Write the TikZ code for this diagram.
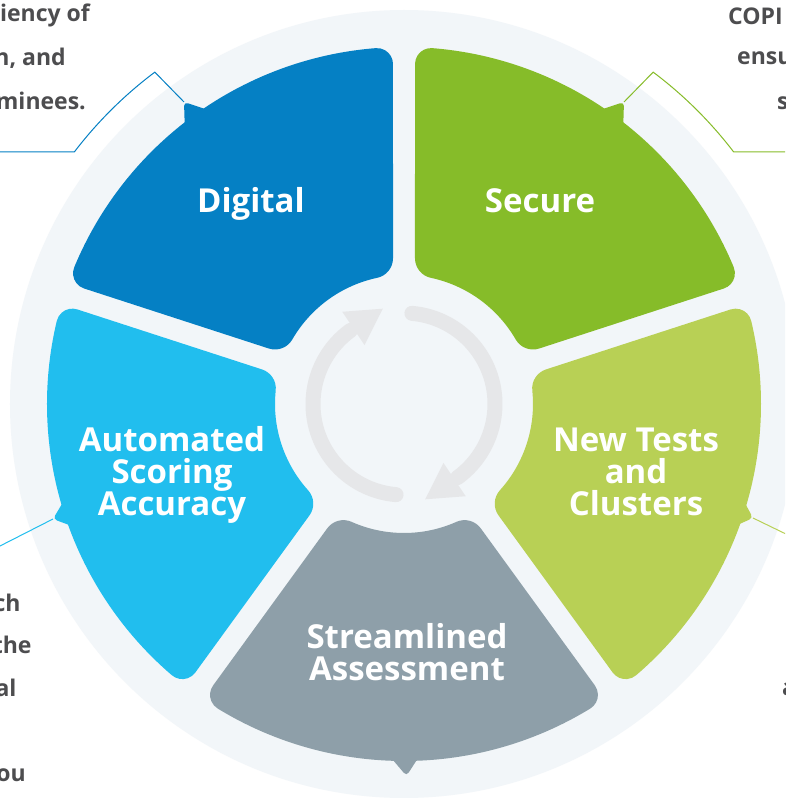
\documentclass[tikz,border=0pt]{standalone}
\usepackage{fontspec}
\setmainfont{Open Sans}
\definecolor{cDig}{HTML}{0580C4}
\definecolor{cSec}{HTML}{86BC29}
\definecolor{cAut}{HTML}{21BEEE}
\definecolor{cNew}{HTML}{B8D055}
\definecolor{cStr}{HTML}{8E9FA9}
\definecolor{cPale}{HTML}{F2F6F9}
\definecolor{cArr}{HTML}{E6E7E9}
\definecolor{cTxt}{HTML}{4D4D4F}
\newcommand\segpath{(58.316:146.15pt) -- (55.853:340.11pt)
  arc[start angle=-36,end angle=58.541,radius=16pt]
  arc[start angle=58.541,end angle=121.459,radius=357pt]
  arc[start angle=121.459,end angle=216,radius=16pt]
  -- (121.684:146.15pt)
  arc[start angle=216,end angle=293.992,radius=20pt]
  arc[start angle=113.992,end angle=66.008,radius=129pt]
  arc[start angle=246.008,end angle=324,radius=20pt] -- cycle}
\tikzset{
  lbl/.style={text=white, font=\bfseries\fontsize{33}{33}\selectfont, inner sep=0pt, anchor=base},
  side/.style={text=cTxt, font=\bfseries\fontsize{23}{23}\selectfont, inner sep=0pt},
  callout/.style={line width=1pt},
  arrowarc/.style={draw=cArr, line width=15pt, line cap=round},
}
\begin{document}
\begin{tikzpicture}[x=1pt,y=1pt]
\useasboundingbox (-404,-394) rectangle (381,404);
\clip (-404,-394) rectangle (381,404);
\fill[white] (-404,-394) rectangle (381,404);
\fill[cPale] (0,0) circle[radius=394pt];
% callout lines
\coordinate (dTip) at (-220,302);
\coordinate (dElb) at (126.9:415pt);
\coordinate (dEnd) at (-410,252.07);
\draw[callout, cDig] (dTip) -- (dElb) arc[start angle=126.9,end angle=142.6,radius=415pt] -- (dEnd);
\coordinate (sTip) at (220,302);
\coordinate (sElb) at (53.1:415pt);
\coordinate (sEnd) at (390,252.07);
\draw[callout, cSec] (sTip) -- (sElb) arc[start angle=53.1,end angle=37.4,radius=415pt] -- (sEnd);
\coordinate (aTip) at (-351,-115);
\coordinate (aEnd) at (-406,-143);
\draw[callout, cAut] (aTip) -- (aEnd);
\coordinate (nTip) at (349,-114);
\coordinate (nEnd) at (384,-131);
\draw[callout, cNew] (nTip) -- (nEnd);
\coordinate (stTip) at (2.5,-372);
% segments
\fill[cDig, rotate=36] \segpath;
\fill[cSec, rotate=-36] \segpath;
\fill[cAut, rotate=108] \segpath;
\fill[cNew, rotate=-108] \segpath;
\fill[cStr, rotate=180] \segpath;
% tails
\fill[cDig, rounded corners=4pt] (123:348pt) -- (dTip) -- (129:348pt) -- cycle;
\fill[cSec, rounded corners=4pt] (51:348pt) -- (sTip) -- (57:348pt) -- cycle;
\fill[cAut, rounded corners=4pt] (195:348pt) -- (aTip) -- (201:348pt) -- cycle;
\fill[cNew, rounded corners=4pt] (339:348pt) -- (nTip) -- (345:348pt) -- cycle;
\fill[cStr, rounded corners=4pt] (267:348pt) -- (stTip) -- (273:348pt) -- cycle;
% center arrows
\draw[arrowarc] (265:91pt) arc[start angle=265,end angle=126,radius=91pt];
\fill[cArr] (123.8:111pt) -- (-21.2,95.3) -- (123.8:71pt) -- cycle;
\draw[arrowarc] (85:91pt) arc[start angle=85,end angle=-54,radius=91pt];
\fill[cArr] (303.8:111pt) -- (21.2,-95.3) -- (303.8:71pt) -- cycle;
% labels
\node[lbl] (digital) at (-153,191) {Digital};
\node[lbl] (secure) at (136,191) {Secure};
\node[lbl] (aut1) at (-232,-47.5) {Automated};
\node[lbl] (aut2) at (-232,-79.5) {Scoring};
\node[lbl] (aut3) at (-232,-111.5) {Accuracy};
\node[lbl] (new1) at (232,-47.5) {New Tests};
\node[lbl] (new2) at (232,-79.5) {and};
\node[lbl] (new3) at (232,-111.5) {Clusters};
\node[lbl] (str1) at (3,-244.3) {Streamlined};
\node[lbl] (str2) at (3,-276) {Assessment};
% side texts
\node[side, anchor=base east] (lt1) at (-314,382.5) {ciency of};
\node[side, anchor=base east] (lt2) at (-338,338.5) {n, and};
\node[side, anchor=base east] (lt3) at (-318,294.5) {minees.};
\node[side, anchor=base west] (rt1) at (324,379) {COPI};
\node[side, anchor=base west] (rt2) at (333,339) {ensu};
\node[side, anchor=base west] (rt3) at (373,294) {s};
\node[side, anchor=base east] (lb1) at (-383.3,-207.7) {ch};
\node[side, anchor=base east] (lb2) at (-372.3,-249.3) {the};
\node[side, anchor=base east] (lb3) at (-387.3,-292.7) {al};
\node[side, anchor=base east] (lb4) at (-378,-377.7) {ou};
\node[side, anchor=base west] (rb1) at (378,-291) {a};
\end{tikzpicture}
\end{document}
